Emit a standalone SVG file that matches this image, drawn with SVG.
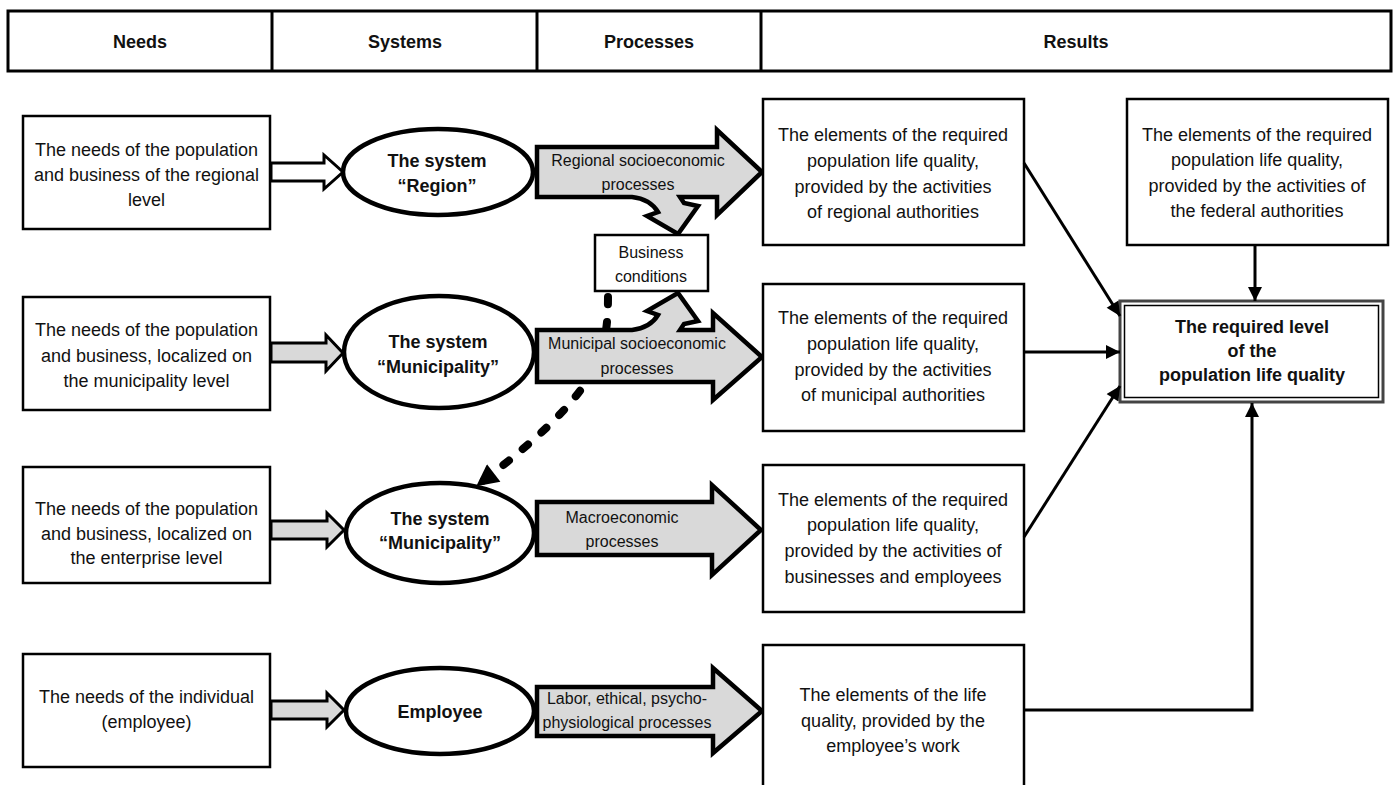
<svg xmlns="http://www.w3.org/2000/svg" width="1397" height="785" viewBox="0 0 1397 785">
  <style>
    .t { font-family: "Liberation Sans", Arial, sans-serif; font-size: 18px; text-anchor: middle; dominant-baseline: central; fill: #111; }
    .b { font-weight: bold; }
    .s { font-size: 16px; }
    .box { fill: #fff; stroke: #000; stroke-width: 2.5; }
    .ell { fill: #fff; stroke: #000; stroke-width: 4.5; }
    .big { fill: #d9d9d9; stroke: #000; stroke-width: 4.5; stroke-linejoin: miter; }
    .small { fill: #d9d9d9; stroke: #000; stroke-width: 3; }
    .conn { fill: none; stroke: #000; stroke-width: 3; }
    .dash { fill: none; stroke: #000; stroke-width: 8; stroke-linecap: round; stroke-dasharray: 7 18; }
  </style>
  <defs>
    <marker id="arr" viewBox="0 0 10 10" refX="10" refY="5" markerWidth="18" markerHeight="14" markerUnits="userSpaceOnUse" orient="auto">
      <path d="M0,0 L10,5 L0,10 Z" fill="#000"/>
    </marker>
    <marker id="arrBig" viewBox="0 0 10 10" refX="9" refY="5" markerWidth="24" markerHeight="22" markerUnits="userSpaceOnUse" orient="auto">
      <path d="M0,0 L10,5 L0,10 Z" fill="#000"/>
    </marker>
  </defs>

  <rect width="1397" height="785" fill="#fff"/>

  <!-- column header -->
  <g id="header">
    <rect x="8" y="11" width="1383" height="60" fill="#fff" stroke="#000" stroke-width="3"/>
    <line x1="272" y1="11" x2="272" y2="71" stroke="#000" stroke-width="3"/>
    <line x1="537" y1="11" x2="537" y2="71" stroke="#000" stroke-width="3"/>
    <line x1="761" y1="11" x2="761" y2="71" stroke="#000" stroke-width="3"/>
    <text class="t b" x="140" y="42">Needs</text>
    <text class="t b" x="405" y="42">Systems</text>
    <text class="t b" x="649" y="42">Processes</text>
    <text class="t b" x="1076" y="42">Results</text>
  </g>

  <!-- dashed link from business conditions to the lower system (under the arrows) -->
  <g id="connectors-dashed">
    <path class="dash" d="M608,297 C608,360 595,395 478,485" marker-end="url(#arrBig)"/>
  </g>

  <!-- needs -->
  <g id="need-region">
    <rect class="box" x="23" y="116" width="247" height="113"/>
    <text class="t" x="146.5" y="150">The needs of the population</text>
    <text class="t" x="146.5" y="175">and business of the regional</text>
    <text class="t" x="146.5" y="200">level</text>
  </g>
  <g id="need-municipality">
    <rect class="box" x="23" y="297" width="247" height="113"/>
    <text class="t" x="146.5" y="330">The needs of the population</text>
    <text class="t" x="146.5" y="356">and business, localized on</text>
    <text class="t" x="146.5" y="381">the municipality level</text>
  </g>
  <g id="need-enterprise">
    <rect class="box" x="23" y="467" width="247" height="116"/>
    <text class="t" x="146.5" y="509">The needs of the population</text>
    <text class="t" x="146.5" y="534">and business, localized on</text>
    <text class="t" x="146.5" y="558">the enterprise level</text>
  </g>
  <g id="need-individual">
    <rect class="box" x="23" y="654" width="247" height="113"/>
    <text class="t" x="146.5" y="697">The needs of the individual</text>
    <text class="t" x="146.5" y="722">(employee)</text>
  </g>

  <!-- block arrows from needs to systems -->
  <g id="need-arrows">
    <path class="small" style="fill:#fff" d="M271,163 L324,163 L324,155 L343,172 L324,189 L324,181 L271,181 Z"/>
    <path class="small" d="M271,343 L326,343 L326,335 L343,353 L326,371 L326,362 L271,362 Z"/>
    <path class="small" d="M271,521 L327,521 L327,513 L344,530 L327,547 L327,539 L271,539 Z"/>
    <path class="small" d="M271,701 L327,701 L327,693 L344,710 L327,727 L327,719 L271,719 Z"/>
  </g>

  <!-- systems -->
  <g id="sys-region">
    <ellipse class="ell" cx="438" cy="172" rx="95" ry="43"/>
    <text class="t b" x="437" y="161">The system</text>
    <text class="t b" x="437" y="186">“Region”</text>
  </g>
  <g id="sys-municipality">
    <ellipse class="ell" cx="439" cy="352" rx="95" ry="56"/>
    <text class="t b" x="438" y="342">The system</text>
    <text class="t b" x="438" y="367">“Municipality”</text>
  </g>
  <g id="sys-municipality-2">
    <ellipse class="ell" cx="440" cy="533" rx="94" ry="50"/>
    <text class="t b" x="440" y="519">The system</text>
    <text class="t b" x="440" y="543">“Municipality”</text>
  </g>
  <g id="sys-employee">
    <ellipse class="ell" cx="440" cy="711" rx="94" ry="43"/>
    <text class="t b" x="440" y="712">Employee</text>
  </g>

  <!-- processes -->
  <g id="proc-regional">
    <path class="big" d="M537,147 L717,147 L717,130 L762,172 L717,215 L717,197 L680,197 L684,203 L698,206 L678,234 L647,216 L658,212 Q650,199 632,197 L537,197 Z"/>
    <text class="t s" x="638" y="160">Regional socioeconomic</text>
    <text class="t s" x="638" y="184">processes</text>
  </g>
  <g id="proc-municipal">
    <path class="big" d="M537,330 L632,330 Q650,328 658,315 L647,311 L678,293 L698,321 L684,324 L680,330 L713,330 L713,313 L762,357 L713,400 L713,382 L537,382 Z"/>
    <text class="t s" x="637" y="343">Municipal socioeconomic</text>
    <text class="t s" x="637" y="368">processes</text>
  </g>
  <g id="proc-macro">
    <path class="big" d="M537,502 L712,502 L712,485 L761,530 L712,575 L712,555 L537,555 Z"/>
    <text class="t s" x="622" y="517">Macroeconomic</text>
    <text class="t s" x="622" y="541">processes</text>
  </g>
  <g id="proc-labor">
    <path class="big" d="M537,687 L713,687 L713,668 L762,711 L713,753 L713,736 L537,736 Z"/>
    <text class="t s" x="627" y="698">Labor, ethical, psycho-</text>
    <text class="t s" x="627" y="722">physiological processes</text>
  </g>

  <g id="business-conditions">
    <rect class="box" x="595" y="235" width="113" height="56"/>
    <text class="t s" x="651" y="252">Business</text>
    <text class="t s" x="651" y="276">conditions</text>
  </g>

  <!-- results -->
  <g id="res-regional">
    <rect class="box" x="763" y="99" width="261" height="146"/>
    <text class="t" x="893" y="135">The elements of the required</text>
    <text class="t" x="893" y="161">population life quality,</text>
    <text class="t" x="893" y="187">provided by the activities</text>
    <text class="t" x="893" y="212">of regional authorities</text>
  </g>
  <g id="res-municipal">
    <rect class="box" x="763" y="284" width="261" height="147"/>
    <text class="t" x="893" y="318">The elements of the required</text>
    <text class="t" x="893" y="344">population life quality,</text>
    <text class="t" x="893" y="370">provided by the activities</text>
    <text class="t" x="893" y="395">of municipal authorities</text>
  </g>
  <g id="res-business">
    <rect class="box" x="763" y="465" width="261" height="147"/>
    <text class="t" x="893" y="500">The elements of the required</text>
    <text class="t" x="893" y="525">population life quality,</text>
    <text class="t" x="893" y="551">provided by the activities of</text>
    <text class="t" x="893" y="577">businesses and employees</text>
  </g>
  <g id="res-employee">
    <rect class="box" x="763" y="645" width="261" height="160"/>
    <text class="t" x="893" y="695">The elements of the life</text>
    <text class="t" x="893" y="721">quality, provided by the</text>
    <text class="t" x="893" y="746">employee’s work</text>
  </g>
  <g id="res-federal">
    <rect class="box" x="1127" y="99" width="261" height="146"/>
    <text class="t" x="1257" y="135">The elements of the required</text>
    <text class="t" x="1257" y="160">population life quality,</text>
    <text class="t" x="1257" y="186">provided by the activities of</text>
    <text class="t" x="1257" y="211">the federal authorities</text>
  </g>
  <g id="required-level">
    <rect x="1120" y="301" width="263" height="101" fill="#fff" stroke="#444" stroke-width="3"/>
    <rect x="1124.5" y="305.5" width="254" height="92" fill="none" stroke="#000" stroke-width="1.5"/>
    <text class="t b" x="1252" y="327">The required level</text>
    <text class="t b" x="1252" y="351">of the</text>
    <text class="t b" x="1252" y="375">population life quality</text>
  </g>

  <!-- connectors to the required level -->
  <g id="connectors">
    <line class="conn" x1="1024" y1="163" x2="1120" y2="316" marker-end="url(#arr)"/>
    <line class="conn" x1="1024" y1="352" x2="1120" y2="352" marker-end="url(#arr)"/>
    <line class="conn" x1="1024" y1="537" x2="1120" y2="386" marker-end="url(#arr)"/>
    <polyline class="conn" points="1024,710 1252,710 1252,403" marker-end="url(#arr)"/>
    <line class="conn" x1="1255" y1="245" x2="1255" y2="301" marker-end="url(#arr)"/>
  </g>
</svg>
